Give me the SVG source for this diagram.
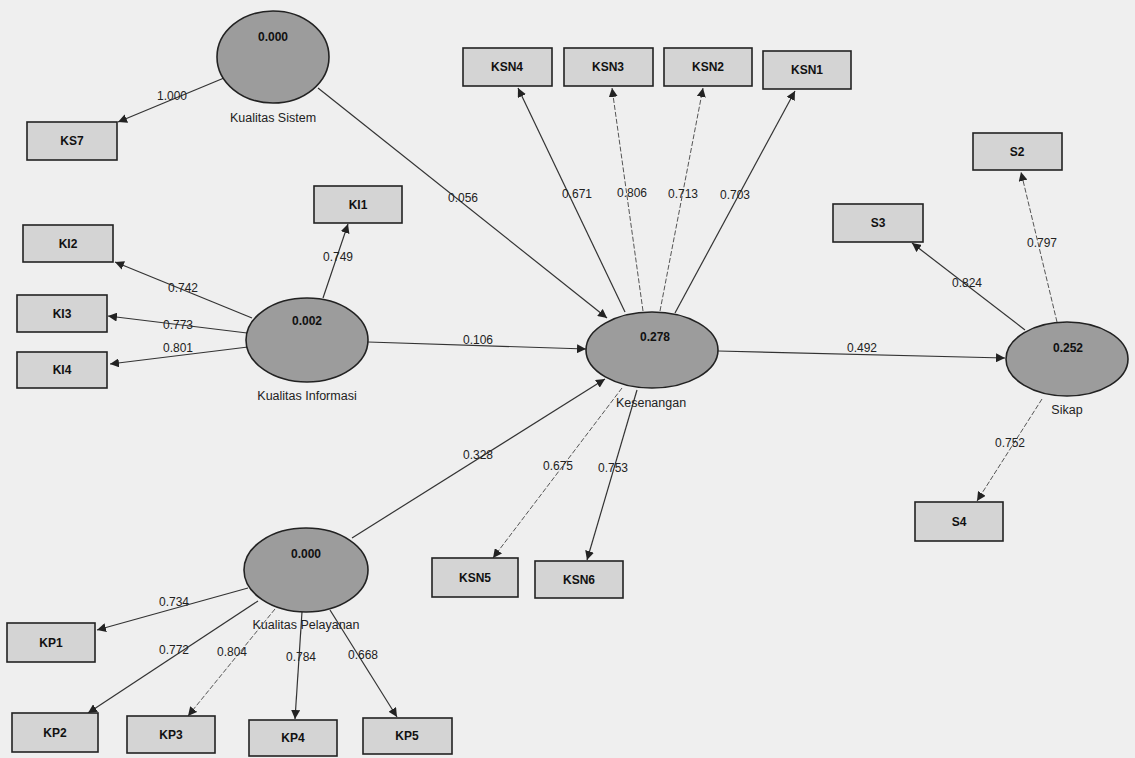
<svg xmlns="http://www.w3.org/2000/svg" width="1135" height="758" viewBox="0 0 1135 758">
  <style>
    .lv { fill: #9c9c9c; stroke: #222; stroke-width: 1.6; }
    .ind { fill: #d4d4d4; stroke: #222; stroke-width: 1.6; }
    .lvv { font-family: "Liberation Sans", Arial, sans-serif; font-size: 12px; font-weight: bold; fill: #111; text-anchor: middle; }
    .lvn { font-family: "Liberation Sans", Arial, sans-serif; font-size: 12.5px; fill: #222; text-anchor: middle; }
    .bx { font-family: "Liberation Sans", Arial, sans-serif; font-size: 12px; font-weight: bold; fill: #111; text-anchor: middle; }
    .edge { stroke: #333; stroke-width: 1.2; fill: none; marker-end: url(#ah); }
    .edge.light { stroke: #555; stroke-width: 1; stroke-dasharray: 5 2; }
    .wt { font-family: "Liberation Sans", Arial, sans-serif; font-size: 12px; fill: #222; text-anchor: middle; }
  </style>
  <defs>
    <marker id="ah" viewBox="0 0 10 10" refX="10" refY="5" markerWidth="9" markerHeight="9" markerUnits="userSpaceOnUse" orient="auto">
      <path d="M0,0 L10,5 L0,10 z" fill="#222"/>
    </marker>
  </defs>
  <rect x="0" y="0" width="1135" height="758" fill="#efefef"/>

  <!-- connectors: paths with loading values -->
  <g id="connectors">
    <line class="edge" x1="224" y1="78" x2="118" y2="122"/>
    <text class="wt" x="172" y="100">1.000</text>
    <line class="edge" x1="318" y1="88" x2="607" y2="318"/>
    <text class="wt" x="463" y="202">0.056</text>
    <line class="edge" x1="625" y1="312" x2="518" y2="88"/>
    <text class="wt" x="577" y="198">0.671</text>
    <line class="edge light" x1="643" y1="311" x2="612" y2="88"/>
    <text class="wt" x="632" y="197">0.806</text>
    <line class="edge light" x1="660" y1="311" x2="703" y2="88"/>
    <text class="wt" x="683" y="198">0.713</text>
    <line class="edge" x1="675" y1="313" x2="795" y2="91"/>
    <text class="wt" x="735" y="199">0.703</text>
    <line class="edge" x1="323" y1="298" x2="348" y2="224"/>
    <text class="wt" x="338" y="261">0.749</text>
    <line class="edge" x1="252" y1="318" x2="115" y2="262"/>
    <text class="wt" x="183" y="292">0.742</text>
    <line class="edge" x1="247" y1="333" x2="108" y2="316"/>
    <text class="wt" x="178" y="329">0.773</text>
    <line class="edge" x1="248" y1="347" x2="110" y2="364"/>
    <text class="wt" x="178" y="352">0.801</text>
    <line class="edge" x1="368" y1="342" x2="586" y2="349"/>
    <text class="wt" x="478" y="344">0.106</text>
    <line class="edge" x1="352" y1="538" x2="605" y2="379"/>
    <text class="wt" x="478" y="459">0.328</text>
    <line class="edge light" x1="622" y1="388" x2="493" y2="558"/>
    <text class="wt" x="558" y="470">0.675</text>
    <line class="edge" x1="637" y1="390" x2="587" y2="560"/>
    <text class="wt" x="613" y="472">0.753</text>
    <line class="edge" x1="718" y1="351" x2="1005" y2="358"/>
    <text class="wt" x="862" y="352">0.492</text>
    <line class="edge" x1="1025" y1="330" x2="912" y2="243"/>
    <text class="wt" x="967" y="287">0.824</text>
    <line class="edge light" x1="1057" y1="322" x2="1021" y2="172"/>
    <text class="wt" x="1042" y="247">0.797</text>
    <line class="edge light" x1="1042" y1="399" x2="977" y2="501"/>
    <text class="wt" x="1010" y="447">0.752</text>
    <line class="edge" x1="248" y1="588" x2="97" y2="630"/>
    <text class="wt" x="174" y="606">0.734</text>
    <line class="edge" x1="258" y1="601" x2="88" y2="713"/>
    <text class="wt" x="174" y="654">0.772</text>
    <line class="edge light" x1="275" y1="609" x2="188" y2="716"/>
    <text class="wt" x="232" y="656">0.804</text>
    <line class="edge" x1="302" y1="612" x2="295" y2="719"/>
    <text class="wt" x="301" y="661">0.784</text>
    <line class="edge" x1="330" y1="610" x2="397" y2="717"/>
    <text class="wt" x="363" y="659">0.668</text>
  </g>

  <!-- latent variables -->
  <g id="kualitas-sistem">
    <ellipse class="lv" cx="273" cy="57" rx="56" ry="46"/>
    <text class="lvv" x="273" y="41">0.000</text>
    <text class="lvn" x="273" y="122">Kualitas Sistem</text>
  </g>
  <g id="kualitas-informasi">
    <ellipse class="lv" cx="307" cy="340" rx="61" ry="42"/>
    <text class="lvv" x="307" y="325">0.002</text>
    <text class="lvn" x="307" y="400">Kualitas Informasi</text>
  </g>
  <g id="kualitas-pelayanan">
    <ellipse class="lv" cx="306" cy="570" rx="62" ry="42"/>
    <text class="lvv" x="306" y="558">0.000</text>
    <text class="lvn" x="306" y="629">Kualitas Pelayanan</text>
  </g>
  <g id="kesenangan">
    <ellipse class="lv" cx="652" cy="350" rx="66" ry="38"/>
    <text class="lvv" x="655" y="341">0.278</text>
    <text class="lvn" x="651" y="407">Kesenangan</text>
  </g>
  <g id="sikap">
    <ellipse class="lv" cx="1067" cy="359" rx="61" ry="37"/>
    <text class="lvv" x="1068" y="352">0.252</text>
    <text class="lvn" x="1067" y="414">Sikap</text>
  </g>

  <!-- indicators -->
  <g id="KS7"><rect class="ind" x="27" y="122" width="90" height="38"/><text class="bx" x="72" y="145">KS7</text></g>
  <g id="KSN4"><rect class="ind" x="463" y="48" width="89" height="38"/><text class="bx" x="507" y="71">KSN4</text></g>
  <g id="KSN3"><rect class="ind" x="564" y="48" width="89" height="38"/><text class="bx" x="608" y="71">KSN3</text></g>
  <g id="KSN2"><rect class="ind" x="664" y="48" width="88" height="38"/><text class="bx" x="708" y="71">KSN2</text></g>
  <g id="KSN1"><rect class="ind" x="763" y="51" width="88" height="38"/><text class="bx" x="807" y="74">KSN1</text></g>
  <g id="KI1"><rect class="ind" x="314" y="186" width="88" height="37"/><text class="bx" x="358" y="209">KI1</text></g>
  <g id="KI2"><rect class="ind" x="23" y="225" width="90" height="37"/><text class="bx" x="68" y="248">KI2</text></g>
  <g id="KI3"><rect class="ind" x="17" y="295" width="90" height="37"/><text class="bx" x="62" y="318">KI3</text></g>
  <g id="KI4"><rect class="ind" x="17" y="352" width="90" height="36"/><text class="bx" x="62" y="374">KI4</text></g>
  <g id="KSN5"><rect class="ind" x="432" y="558" width="86" height="39"/><text class="bx" x="475" y="582">KSN5</text></g>
  <g id="KSN6"><rect class="ind" x="535" y="561" width="88" height="37"/><text class="bx" x="579" y="584">KSN6</text></g>
  <g id="S2"><rect class="ind" x="973" y="133" width="89" height="37"/><text class="bx" x="1017" y="156">S2</text></g>
  <g id="S3"><rect class="ind" x="833" y="204" width="90" height="38"/><text class="bx" x="878" y="227">S3</text></g>
  <g id="S4"><rect class="ind" x="915" y="502" width="88" height="39"/><text class="bx" x="959" y="526">S4</text></g>
  <g id="KP1"><rect class="ind" x="7" y="623" width="88" height="39"/><text class="bx" x="51" y="647">KP1</text></g>
  <g id="KP2"><rect class="ind" x="12" y="713" width="86" height="39"/><text class="bx" x="55" y="737">KP2</text></g>
  <g id="KP3"><rect class="ind" x="127" y="716" width="88" height="37"/><text class="bx" x="171" y="739">KP3</text></g>
  <g id="KP4"><rect class="ind" x="249" y="720" width="88" height="36"/><text class="bx" x="293" y="742">KP4</text></g>
  <g id="KP5"><rect class="ind" x="363" y="718" width="89" height="36"/><text class="bx" x="407" y="740">KP5</text></g>
</svg>
